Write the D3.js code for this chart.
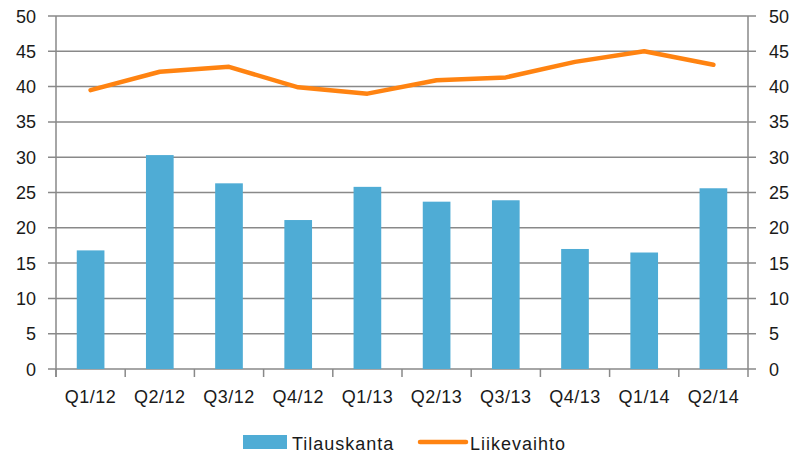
<!DOCTYPE html>
<html>
<head>
<meta charset="utf-8">
<script src="https://cdn.jsdelivr.net/npm/d3@7/dist/d3.min.js"></script>
<style>
body { margin: 0; background: #ffffff; }
text { font-family: "Liberation Sans", Arial, sans-serif; fill: #1a1a1a; }
</style>
</head>
<body>
<svg width="794" height="453"></svg>
<script>
// data
var quarters = ["Q1/12", "Q2/12", "Q3/12", "Q4/12", "Q1/13", "Q2/13", "Q3/13", "Q4/13", "Q1/14", "Q2/14"];
var tilauskanta = [16.8, 30.3, 26.3, 21.1, 25.8, 23.7, 23.9, 17.0, 16.5, 25.6];
var liikevaihto = [39.5, 42.1, 42.8, 39.9, 39.0, 40.9, 41.3, 43.5, 45.0, 43.1];
var yTicks = [0, 5, 10, 15, 20, 25, 30, 35, 40, 45, 50];

var svg = d3.select("svg");

var plotL = 56, plotR = 748, plotT = 16, plotB = 369;
var gridColor = "#898989";

var x = d3.scaleBand()
	.domain(quarters)
	.range([plotL, plotR])
	.paddingInner(0.6)
	.paddingOuter(0.3);

var xBand = d3.scaleBand()
	.domain(quarters)
	.range([plotL, plotR]);

var y = d3.scaleLinear()
	.domain([0, 50])
	.range([plotB, plotT]);

// gridlines
svg.append("g")
	.selectAll("line")
	.data(yTicks)
	.enter()
	.append("line")
	.attr("x1", plotL - 8)
	.attr("x2", plotR + 8)
	.attr("y1", function(d) { return y(d); })
	.attr("y2", function(d) { return y(d); })
	.style("stroke", gridColor)
	.style("stroke-width", 1.5);

// bars
svg.append("g")
	.selectAll("rect")
	.data(tilauskanta)
	.enter()
	.append("rect")
	.attr("x", function(d, i) { return x(quarters[i]); })
	.attr("width", x.bandwidth())
	.attr("y", function(d) { return y(d); })
	.attr("height", function(d) { return plotB - y(d); })
	.style("fill", "#4facd5");

// axis lines
svg.append("line")
	.attr("x1", plotL).attr("x2", plotL)
	.attr("y1", plotT).attr("y2", plotB + 8)
	.style("stroke", gridColor).style("stroke-width", 1.5);
svg.append("line")
	.attr("x1", plotR).attr("x2", plotR)
	.attr("y1", plotT).attr("y2", plotB + 8)
	.style("stroke", gridColor).style("stroke-width", 1.5);

// x ticks between categories
svg.append("g")
	.selectAll("line")
	.data(quarters)
	.enter()
	.append("line")
	.attr("x1", function(d) { return xBand(d); })
	.attr("x2", function(d) { return xBand(d); })
	.attr("y1", plotB)
	.attr("y2", plotB + 8)
	.style("stroke", gridColor)
	.style("stroke-width", 1.5);

// left axis labels
svg.append("g")
	.selectAll("text")
	.data(yTicks)
	.enter()
	.append("text")
	.attr("x", 36)
	.attr("y", function(d) { return y(d) + 6.5; })
	.attr("text-anchor", "end")
	.style("font-size", "18px")
	.text(function(d) { return d; });

// right axis labels
svg.append("g")
	.selectAll("text")
	.data(yTicks)
	.enter()
	.append("text")
	.attr("x", 769)
	.attr("y", function(d) { return y(d) + 6.5; })
	.attr("text-anchor", "start")
	.style("font-size", "18px")
	.text(function(d) { return d; });

// x labels
svg.append("g")
	.selectAll("text")
	.data(quarters)
	.enter()
	.append("text")
	.attr("x", function(d) { return xBand(d) + xBand.bandwidth() / 2; })
	.attr("y", 403)
	.attr("text-anchor", "middle")
	.style("font-size", "18px")
	.style("letter-spacing", "0.5px")
	.text(function(d) { return d; });

// line
var line = d3.line()
	.x(function(d, i) { return xBand(quarters[i]) + xBand.bandwidth() / 2; })
	.y(function(d) { return y(d); });

svg.append("path")
	.datum(liikevaihto)
	.attr("d", line)
	.style("fill", "none")
	.style("stroke", "#ff8311")
	.style("stroke-width", 4.5)
	.style("stroke-linecap", "round")
	.style("stroke-linejoin", "round");

// legend
svg.append("rect")
	.attr("x", 243).attr("y", 435)
	.attr("width", 44).attr("height", 14)
	.style("fill", "#4facd5");
svg.append("text")
	.attr("x", 292).attr("y", 450)
	.style("font-size", "18px")
	.style("letter-spacing", "1px")
	.text("Tilauskanta");

svg.append("line")
	.attr("x1", 420).attr("x2", 466)
	.attr("y1", 442).attr("y2", 442)
	.style("stroke", "#ff8311")
	.style("stroke-width", 4.5)
	.style("stroke-linecap", "round");
svg.append("text")
	.attr("x", 470).attr("y", 450)
	.style("font-size", "18px")
	.style("letter-spacing", "1px")
	.text("Liikevaihto");
</script>
</body>
</html>
